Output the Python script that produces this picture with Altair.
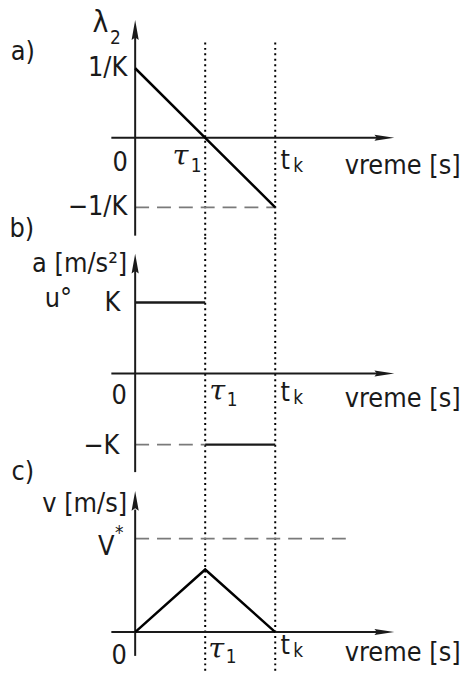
import altair as alt
import pandas as pd

# ---- data -----------------------------------------------------------------
# switching instants (time measured in units of tau_1)
T0, TAU1, TK = 0.0, 1.0, 2.0

# a) co-state lambda_2, in units of 1/K
lam_t = [T0, TAU1, TK]
lam_v = [1.0, 0.0, -1.0]
LAM_GUIDE = -1.0

# b) optimal control u° (acceleration), in units of K
acc_up_t = [T0, TAU1]
acc_up_v = [1.0, 1.0]
acc_dn_t = [TAU1, TK]
acc_dn_v = [-1.0, -1.0]

# c) velocity, in units of V*
vel_t = [T0, TAU1, TK]
vel_v = [0.0, 0.67, 0.0]
V_STAR = 1.0

# ---- layout -----------------------------------------------------------------
W = 461
X_DOMAIN = [-1.93, 4.61]
H_AXIS = (-0.34, 3.70)          # horizontal axis start / arrow tip (time units)
V_STAR_END = 3.04               # right end of the V* guide

FONT = "Liberation Sans Narrow, DejaVu Sans Condensed, Liberation Sans"
INK = "#1a1a1a"
GUIDE = "#7a7a7a"
FS = 27
FS_SUB = 19

UP_ARROW = "M0,0L0.36,2L0,1.75L-0.36,2Z"
RIGHT_ARROW = "M0,0L-2,-0.3L-1.75,0L-2,0.3Z"


def xs():
    return alt.X("t:Q", scale=alt.Scale(domain=X_DOMAIN, nice=False, zero=False), axis=None)


def ys(dom):
    return alt.Y("v:Q", scale=alt.Scale(domain=dom, nice=False, zero=False), axis=None)


def line(ts, vs, dom, **mk):
    df = pd.DataFrame({"t": ts, "v": vs, "o": range(len(ts))})
    return alt.Chart(df).mark_line(**mk).encode(x=xs(), y=ys(dom), order="o:Q")


def hrule(v, t1, t2, dom, **mk):
    df = pd.DataFrame({"t": [t1], "t2": [t2], "v": [v]})
    return alt.Chart(df).mark_rule(**mk).encode(x=xs(), x2=alt.X2("t2:Q"), y=ys(dom))


def vrule(t, v1, v2, dom, **mk):
    df = pd.DataFrame({"t": [t], "v": [v1], "v2": [v2]})
    return alt.Chart(df).mark_rule(**mk).encode(x=xs(), y=ys(dom), y2=alt.Y2("v2:Q"))


def head(t, v, shape, dom):
    df = pd.DataFrame({"t": [t], "v": [v]})
    return alt.Chart(df).mark_point(
        shape=shape, size=400, filled=True, color=INK, opacity=1, strokeWidth=0
    ).encode(x=xs(), y=ys(dom))


def label(text, t, v, dx, dy, dom, align="center", size=FS, italic=False):
    df = pd.DataFrame({"t": [t], "v": [v]})
    kw = dict(
        text=text, dx=dx, dy=dy, align=align, baseline="middle",
        font=FONT, fontSize=size, color=INK,
    )
    if italic:
        kw["fontStyle"] = "italic"
        kw["font"] = "DejaVu Serif, Liberation Serif"
    return alt.Chart(df).mark_text(**kw).encode(x=xs(), y=ys(dom))


def axes(dom, v_bottom, v_tip):
    return [
        hrule(0, H_AXIS[0], H_AXIS[1] - 0.2, dom, color=INK, strokeWidth=2),
        head(H_AXIS[1], 0, RIGHT_ARROW, dom),
        vrule(T0, v_bottom, v_tip - 0.2, dom, color=INK, strokeWidth=2),
        head(T0, v_tip, UP_ARROW, dom),
    ]


def dotted(dom, v_top):
    return [
        vrule(t, dom[0], v_top, dom, color="#000", strokeWidth=2,
              strokeDash=[2, 3.5], strokeCap="butt")
        for t in (TAU1, TK)
    ]


dashed = dict(color=GUIDE, strokeWidth=1.8, strokeDash=[14, 8], strokeCap="butt")

# ---- a) lambda_2 ------------------------------------------------------------
DA = [-1.407, 1.950]
panel_a = alt.layer(
    *dotted(DA, 1.421),
    hrule(LAM_GUIDE, T0, TK, DA, **dashed),
    *axes(DA, DA[0], 1.693),
    line(lam_t, lam_v, DA, color="#000", strokeWidth=2.5),
    label("a)", T0, 0, -113, -86, DA),
    label("λ", T0, 1.693, -35, 3, DA, size=30),
    label("2", T0, 1.693, -20, 18, DA, size=FS_SUB),
    label("1/K", T0, 1, -8, 0, DA, align="right"),
    label("0", T0, 0, -15, 25, DA),
    label("τ", TAU1, 0, -25, 18, DA, size=29, italic=True),
    label("1", TAU1, 0, -9, 28, DA, size=FS_SUB),
    label("t", TK, 0, 10, 23, DA),
    label("k", TK, 0, 23, 28, DA, size=FS_SUB),
    label("vreme [s]", TK, 0, 70, 28, DA, align="left"),
    label("−1/K", T0, LAM_GUIDE, -8, 0, DA, align="right"),
    label("b)", T0, LAM_GUIDE, -114, 22, DA),
).properties(width=W, height=235)

# ---- b) acceleration ---------------------------------------------------------
DB = [-1.415, 1.941]
panel_b = alt.layer(
    *dotted(DB, DB[1]),
    hrule(acc_dn_v[0], T0, TAU1, DB, **dashed),
    *axes(DB, -1.387, 1.687),
    line(acc_up_t, acc_up_v, DB, color=INK, strokeWidth=2.5),
    line(acc_dn_t, acc_dn_v, DB, color=INK, strokeWidth=2.5),
    label("a [m/s²]", T0, 1, -8, -39, DB, align="right"),
    label("u°", T0, 1, -91, -3, DB, align="left"),
    label("K", T0, 1, -15, 1, DB, align="right"),
    label("0", T0, 0, -16, 23, DB),
    label("τ", TAU1, 0, 12, 18, DB, size=29, italic=True),
    label("1", TAU1, 0, 27, 27, DB, size=FS_SUB),
    label("t", TK, 0, 10, 20, DB),
    label("k", TK, 0, 23, 25, DB, size=FS_SUB),
    label("vreme [s]", TK, 0, 70, 26, DB, align="left"),
    label("−K", T0, -1, -16, 1, DB, align="right"),
).properties(width=W, height=240)

# ---- c) velocity --------------------------------------------------------------
DC = [-0.415, 1.691]
panel_c = alt.layer(
    *dotted(DC, DC[1]),
    hrule(V_STAR, T0, V_STAR_END, DC, **dashed),
    *axes(DC, -0.255, 1.511),
    line(vel_t, vel_v, DC, color="#000", strokeWidth=2.5),
    label("c)", T0, V_STAR, -113, -67, DC),
    label("v [m/s]", T0, V_STAR, -8, -35, DC, align="right"),
    label("V", T0, V_STAR, -29, 8, DC),
    label("*", T0, V_STAR, -16, -6, DC, size=FS_SUB),
    label("0", T0, 0, -16, 24, DC),
    label("τ", TAU1, 0, 11, 17, DC, size=29, italic=True),
    label("1", TAU1, 0, 26, 25, DC, size=FS_SUB),
    label("t", TK, 0, 10, 14, DC),
    label("k", TK, 0, 23, 19, DC, size=FS_SUB),
    label("vreme [s]", TK, 0, 70, 21, DC, align="left"),
).properties(width=W, height=198)

chart = (
    alt.vconcat(panel_a, panel_b, panel_c, spacing=0, bounds="flush")
    .properties(padding=0, background="white")
    .configure_view(stroke=None)
    .configure_concat(spacing=0)
)

chart.save("out.html", embed_options={"renderer": "svg", "actions": False})
